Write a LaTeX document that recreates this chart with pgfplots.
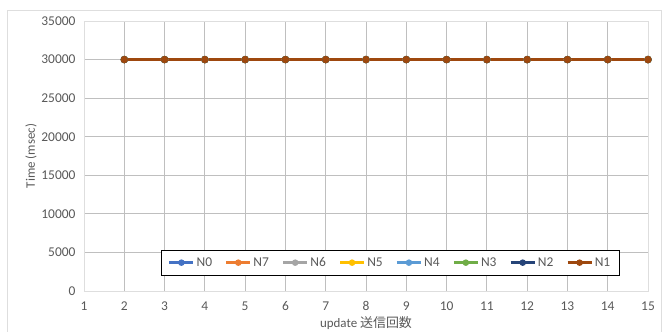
\documentclass[border=0pt]{standalone}
\usepackage{pgfplots}
\pgfplotsset{compat=1.18}
\usepackage{fontspec}
\setmainfont{Carlito}
\newfontfamily\cjk{Noto Sans CJK JP}
\definecolor{tick}{HTML}{595959}
\definecolor{grid}{HTML}{DEDEDE}
\definecolor{cN0}{HTML}{4472C4}
\definecolor{cN7}{HTML}{ED7D31}
\definecolor{cN6}{HTML}{A5A5A5}
\definecolor{cN5}{HTML}{FFC000}
\definecolor{cN4}{HTML}{5B9BD5}
\definecolor{cN3}{HTML}{70AD47}
\definecolor{cN2}{HTML}{264478}
\definecolor{cN1}{HTML}{9E480E}

% all nodes report the same time for every update count
\pgfplotstableread{
x  t
2  30000
3  30000
4  30000
5  30000
6  30000
7  30000
8  30000
9  30000
10 30000
11 30000
12 30000
13 30000
14 30000
15 30000
}\same

\begin{document}
\begin{tikzpicture}[x=1bp,y=1bp]
\useasboundingbox (-84,-40) rectangle (583,291);
\draw[grid, line width=0.8bp] (-76.5,-45) -- (-76.5,281) -- (577,281) -- (577,-45);
\begin{axis}[
  at={(0,0)}, anchor=south west,
  scale only axis, width=564bp, height=270bp,
  xmin=1, xmax=15, ymin=0, ymax=35000,
  xtick={1,...,15}, ytick={0,5000,...,35000},
  scaled y ticks=false,
  y tick label style={/pgf/number format/fixed, /pgf/number format/1000 sep={}},
  /pgf/number format/assume math mode=true,
  grid=major,
  major grid style={grid, line width=0.8bp},
  axis line style={grid, line width=0.8bp},
  tick style={draw=none},
  ticklabel style={font=\fontsize{13.5}{15}\selectfont, text=tick},
  xticklabel style={yshift=-7bp},
  yticklabel style={xshift=-5bp},
  xlabel={update {\cjk 送信回数}},
  ylabel={Time (msec)},
  label style={font=\fontsize{13}{15}\selectfont, text=tick},
  xlabel style={yshift=1bp},
  ylabel style={yshift=-2bp},
  legend columns=8,
  legend style={at={(0.543,0.058)}, anchor=south, draw=black, line width=0.8bp,
    font=\fontsize{13.5}{15}\selectfont, text=tick,
    /tikz/every even column/.append style={column sep=11bp},
    inner xsep=7bp, inner ysep=5bp},
  legend image code/.code={
    \draw[#1, mark=none] (0bp,0bp) -- (24bp,0bp);
    \fill[#1] (12bp,0bp) circle (2bp);},
  every axis plot/.append style={line width=2.4bp, mark=*, mark size=2.4bp},
]
\addplot[cN0, mark options={fill=cN0}] table[x=x,y=t] {\same};
\addlegendentry{N0}
\addplot[cN7, mark options={fill=cN7}] table[x=x,y=t] {\same};
\addlegendentry{N7}
\addplot[cN6, mark options={fill=cN6}] table[x=x,y=t] {\same};
\addlegendentry{N6}
\addplot[cN5, mark options={fill=cN5}] table[x=x,y=t] {\same};
\addlegendentry{N5}
\addplot[cN4, mark options={fill=cN4}] table[x=x,y=t] {\same};
\addlegendentry{N4}
\addplot[cN3, mark options={fill=cN3}] table[x=x,y=t] {\same};
\addlegendentry{N3}
\addplot[cN2, mark options={fill=cN2}] table[x=x,y=t] {\same};
\addlegendentry{N2}
\addplot[cN1, mark options={fill=cN1}] table[x=x,y=t] {\same};
\addlegendentry{N1}
\end{axis}
\end{tikzpicture}
\end{document}
